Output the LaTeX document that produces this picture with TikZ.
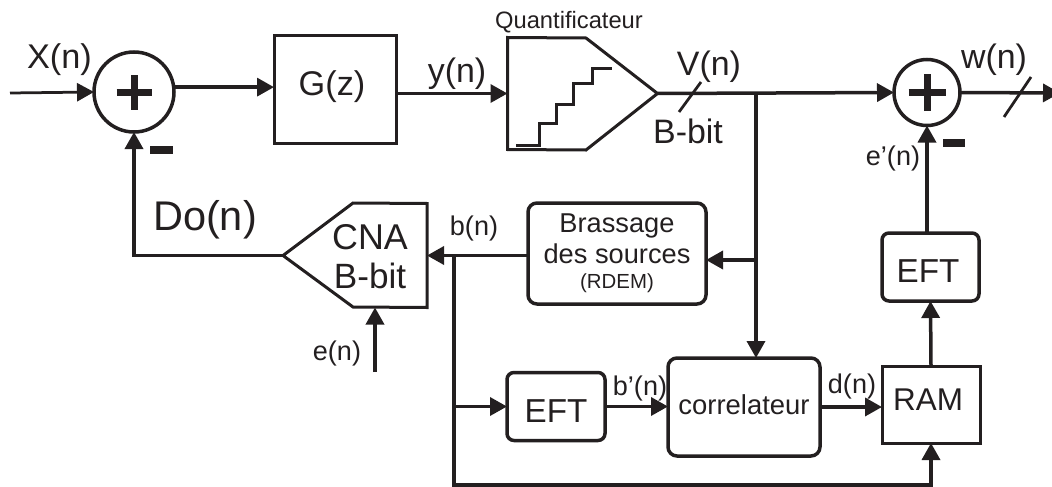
\documentclass[tikz,border=0pt]{standalone}
\usepackage{fontspec}
\setmainfont{Liberation Sans}
\usetikzlibrary{arrows.meta}
\definecolor{ink}{HTML}{231F20}
\tikzset{
  sig/.style={line width=0.7mm,draw=ink,-{Triangle[length=3.4mm,width=3.6mm]}},
  wire/.style={line width=0.7mm,draw=ink},
  sumnode/.style={circle,draw=ink,line width=0.7mm,inner sep=0pt,outer sep=0pt},
  hidden/.style={inner sep=0pt,outer sep=0pt},
  squarebox/.style={rectangle,draw=ink,text=ink,line width=0.6mm,inner sep=0pt,outer sep=0pt},
  roundbox/.style={squarebox,line width=0.7mm,rounded corners=1.4mm},
  big/.style={text=ink,inner sep=0pt,anchor=base,font=\fontsize{19.3}{23}\selectfont},
  small/.style={text=ink,inner sep=0pt,anchor=base,font=\fontsize{15.4}{18}\selectfont},
}
\begin{document}
\begin{tikzpicture}[x=0.2mm,y=-0.2mm]
\clip (0,0) rectangle (1052,487);

\node[sumnode,minimum size=16mm] (sum1) at (134,92) {};
\node[sumnode,minimum size=13.2mm] (sum2) at (927,92.5) {};
\node[squarebox,minimum width=24.4mm,minimum height=21.4mm,text height=2.2mm,text depth=0pt,font=\fontsize{19.5}{23}\selectfont] (gz) at (335,89.5) {\hspace*{-1.2mm}G(z)};
\node[hidden,minimum width=30mm,minimum height=22.4mm] (quant) at (582.5,93.5) {};
\node[hidden,minimum width=28.8mm,minimum height=20.8mm] (cna) at (355,255.5) {};
\node[roundbox,rounded corners=1.8mm,minimum width=35.6mm,minimum height=20.2mm,align=center,font=\fontsize{15.5}{17.6}\selectfont] (rdem) at (617,253.5)
  {Brassage\\des sources\\[-3.4pt]{\fontsize{11.6}{13}\selectfont (RDEM)}};
\node[roundbox,minimum width=19.6mm,minimum height=13.6mm,text height=6.3mm,text depth=0pt,font=\fontsize{18.9}{23}\selectfont] (eftb) at (556,406.5) {EFT};
\node[roundbox,rounded corners=1.8mm,minimum width=30.4mm,minimum height=19.6mm,text height=2.8mm,text depth=0pt,font=\fontsize{15.6}{18}\selectfont] (corr) at (744,407) {correlateur};
\node[squarebox,minimum width=19.6mm,minimum height=15.4mm,text height=2.5mm,text depth=0pt,font=\fontsize{17.9}{22}\selectfont] (ram) at (931,404.5) {\hspace*{-1.2mm}RAM};
\node[roundbox,minimum width=19.4mm,minimum height=13.6mm,text height=6.3mm,text depth=0pt,font=\fontsize{18.9}{23}\selectfont] (efte) at (930.5,267) {\hspace*{-1mm}EFT};

\draw[squarebox] (quant.north west) -- (586,38) -- (quant.east) -- (586,150) -- (quant.south west) -- cycle;
\draw[wire,line width=0.6mm] (516,145) -- (539,145) -- (539,123) -- (556,123) -- (556,104) -- (573,104) -- (573,83) -- (592,83) -- (592,68) -- (612,68);
\draw[squarebox] (cna.west) -- (353,203) -- (cna.north east) -- (cna.south east) -- (353,307) -- cycle;

\foreach \s/\r in {sum1/3.5mm,sum2/3.7mm}{
  \draw[ink,line width=1.4mm] (\s) ++(-\r,0) -- ++(2*\r,0);
  \draw[ink,line width=1.4mm] (\s) ++(0,-\r) -- ++(0,2*\r);
}
\fill[ink] (150,146) rectangle (173,154);
\fill[ink] (943,139) rectangle (965,147);

\coordinate (xin) at (10,93);
\coordinate (wout) at (1060,93);
\coordinate (jv) at (756,93);
\coordinate (jr) at (756,260);
\coordinate (jb) at (454,255.5);
\coordinate (jc) at (454,485);
\coordinate (ein) at (375,372);

\draw[sig,line width=0.55mm] (xin) -- (sum1.west);
\draw[sig] (sum1.7) -- (sum1.7 -| gz.west);
\draw[sig] (gz.east |- quant.west) -- (quant.west);
\draw[sig] (quant.east) -- (sum2.west);
\draw[sig] (sum2.east) -- (wout);
\draw[sig] (jv) -- (jv |- corr.north);
\draw[sig] (jr) -- (jr -| rdem.east);
\draw[sig] (rdem.west |- cna.east) -- (cna.east);
\draw[sig] (cna.west) -| (sum1.south);
\draw[sig] (ein) -- (ein |- cna.south);
\draw[sig] (jb |- eftb.west) -- (eftb.west);
\draw[sig] (eftb.east) -- (eftb.east -| corr.west);
\draw[sig] (corr.east) -- (corr.east -| ram.west);
\draw[sig] (jb) -- (jc) -| (ram.south);
\draw[sig] (ram.north) -- (efte.south);
\draw[sig] (sum2.south |- efte.north) -- (sum2.south);

\draw[wire,line width=0.55mm] (701,82) -- (679,112);
\draw[wire,line width=0.55mm] (1031,77) -- (1004,117);

\node[big,font=\fontsize{19.5}{23}\selectfont] (xlab) at (59.5,68) {X(n)};
\node[big] (ylab) at (457,82) {y(n)};
\node[big] (vlab) at (709,75) {V(n)};
\node[big] (bitlab) at (688,143) {B-bit};
\node[big] (wlab) at (994,68) {w(n)};
\node[big,font=\fontsize{23.6}{28}\selectfont] (dolab) at (205,230) {Do(n)};
\node[big,font=\fontsize{20.4}{24}\selectfont] (cnalab) at (370,249) {CNA};
\node[big,font=\fontsize{20}{24}\selectfont] (cnabit) at (370,288) {B-bit};
\node[small,font=\fontsize{13.5}{16}\selectfont] (qlab) at (569,28) {Quantificateur};
\node[small] (blab) at (474,235) {b(n)};
\node[small] (elab) at (337,360) {e(n)};
\node[small] (bplab) at (640,395) {b’(n)};
\node[small] (dlab) at (852,393) {d(n)};
\node[small] (eplab) at (893,165) {e’(n)};
\end{tikzpicture}
\end{document}
